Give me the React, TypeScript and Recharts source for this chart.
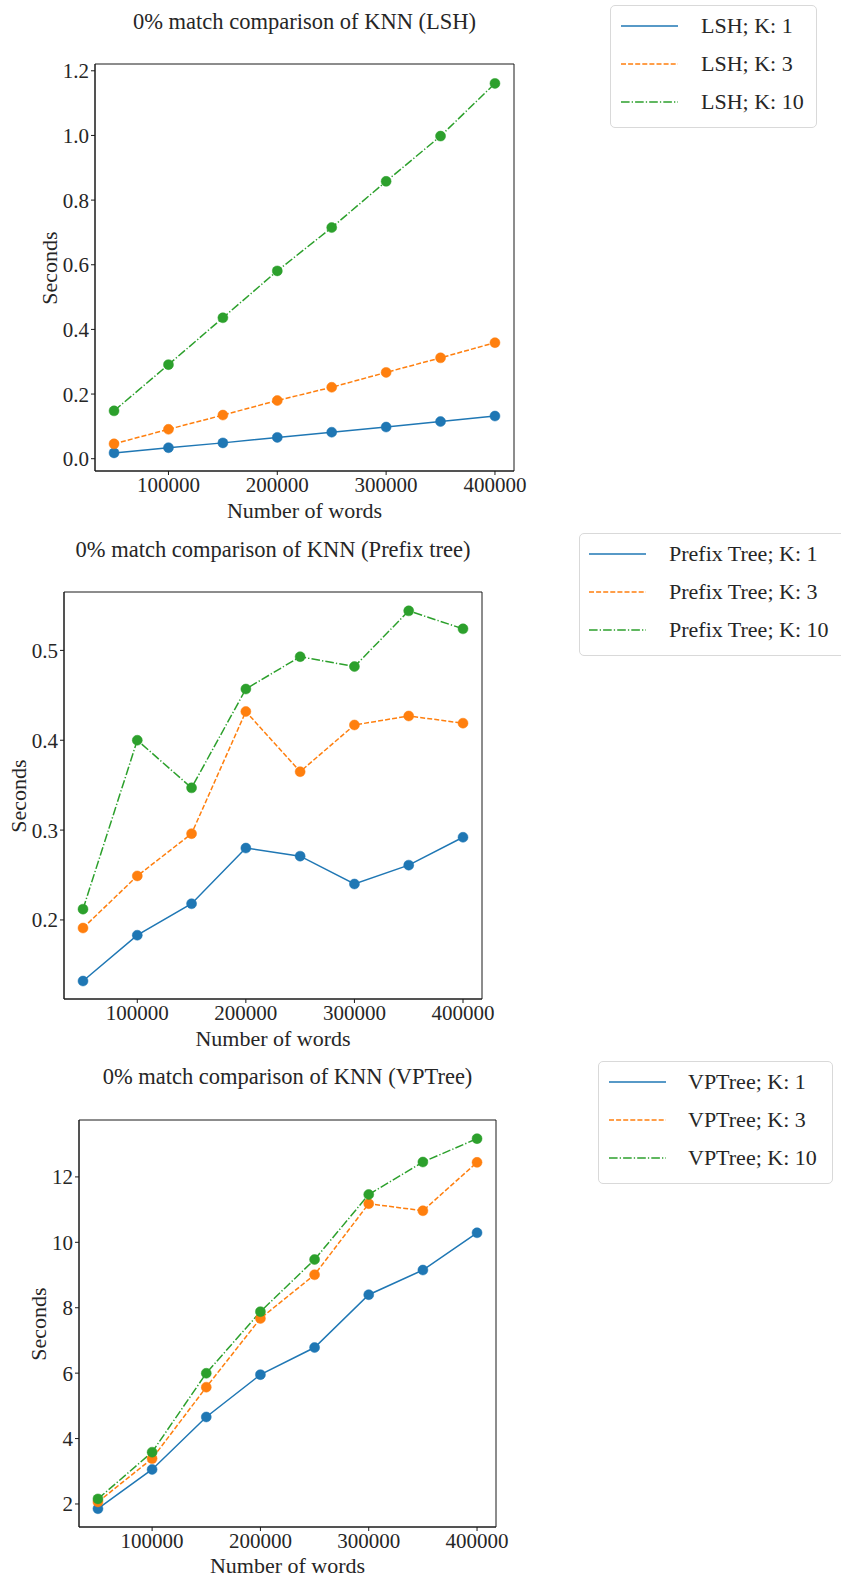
import { LineChart, Line, XAxis, YAxis, ReferenceArea } from "recharts";

const words = [50000, 100000, 150000, 200000, 250000, 300000, 350000, 400000];
const xTicks = [100000, 200000, 300000, 400000];
const xDomain = [32500, 417500];

const lshK1 = [0.018, 0.034, 0.049, 0.066, 0.082, 0.098, 0.115, 0.132];
const lshK3 = [0.046, 0.091, 0.135, 0.18, 0.221, 0.267, 0.312, 0.359];
const lshK10 = [0.148, 0.291, 0.436, 0.581, 0.715, 0.858, 0.998, 1.161];
const lshTicks = [0, 0.2, 0.4, 0.6, 0.8, 1.0, 1.2];

const prefixK1 = [0.132, 0.183, 0.218, 0.28, 0.271, 0.24, 0.261, 0.292];
const prefixK3 = [0.191, 0.249, 0.296, 0.432, 0.365, 0.417, 0.427, 0.419];
const prefixK10 = [0.212, 0.4, 0.347, 0.457, 0.493, 0.482, 0.544, 0.524];
const prefixTicks = [0.2, 0.3, 0.4, 0.5];

const vpK1 = [1.855, 3.056, 4.66, 5.954, 6.783, 8.398, 9.153, 10.292];
const vpK3 = [2.062, 3.387, 5.571, 7.673, 9.008, 11.182, 10.965, 12.445];
const vpK10 = [2.155, 3.584, 5.996, 7.88, 9.474, 11.462, 12.455, 13.17];
const vpTicks = [2, 4, 6, 8, 10, 12];

const kLabels = ["K: 1", "K: 3", "K: 10"];
const colors = ["#1f77b4", "#ff7f0e", "#2ca02c"];
const dashes = [undefined, "5 2.1", "8.6 2.1 1.3 2.1"];

const FONT = "'Liberation Serif', 'Times New Roman', serif";
const INK = "#262626";

type PanelProps = {
  top: number;
  box: { left: number; top: number; right: number; bottom: number };
  title: string;
  titleY: number;
  xLabelY: number;
  yLabelX: number;
  yDomain: number[];
  yTicks: number[];
  yFmt: (v: number) => string;
  series: number[][];
  prefix: string;
  legend: { left: number; top: number; width: number; lineX: number; textX: number };
};

function Legend({ prefix, legend }: { prefix: string; legend: PanelProps["legend"] }) {
  return (
    <div
      style={{
        position: "absolute",
        left: legend.left,
        top: legend.top,
        width: legend.width,
        height: 123,
        border: "1px solid #d9d9d9",
        borderRadius: 5,
        background: "#fff",
        boxSizing: "border-box",
      }}
    >
      {kLabels.map((k, i) => {
        const cy = 20 + i * 38;
        return (
          <div key={k}>
            <svg
              width={60}
              height={6}
              style={{ position: "absolute", left: legend.lineX, top: cy - 3 }}
            >
              <line
                x1={0}
                x2={57}
                y1={3}
                y2={3}
                stroke={colors[i]}
                strokeWidth={1.5}
                strokeDasharray={dashes[i]}
              />
            </svg>
            <div
              style={{
                position: "absolute",
                left: legend.textX,
                top: cy - 11,
                fontFamily: FONT,
                fontSize: 22,
                lineHeight: "22px",
                color: INK,
                whiteSpace: "nowrap",
              }}
            >
              {prefix}; {k}
            </div>
          </div>
        );
      })}
    </div>
  );
}

function Panel(p: PanelProps) {
  const { box } = p;
  const width = box.right + 20;
  const height = box.bottom - p.top + 40;
  const data = words.map((w, i) => ({
    words: w,
    k1: p.series[0][i],
    k3: p.series[1][i],
    k10: p.series[2][i],
  }));
  const cx = (box.left + box.right) / 2;
  const cy = (box.top + box.bottom) / 2;
  const textStyle = {
    position: "absolute" as const,
    fontFamily: FONT,
    fontSize: 22,
    lineHeight: "22px",
    color: INK,
    whiteSpace: "nowrap" as const,
  };
  return (
    <>
      <div style={{ position: "absolute", left: 0, top: p.top }}>
        <LineChart
          width={width}
          height={height}
          data={data}
          margin={{ top: box.top - p.top, right: 20, left: 0, bottom: 0 }}
        >
          <XAxis
            dataKey="words"
            type="number"
            domain={xDomain}
            ticks={xTicks}
            allowDataOverflow
            height={40}
            tickSize={4}
            tickMargin={2}
            stroke="#1a1a1a"
            tick={{ fill: INK, fontSize: 21, fontFamily: FONT }}
          />
          <YAxis
            type="number"
            domain={p.yDomain}
            ticks={p.yTicks}
            allowDataOverflow
            width={box.left}
            tickSize={4}
            tickMargin={2}
            stroke="#1a1a1a"
            tickFormatter={p.yFmt}
            tick={{ fill: INK, fontSize: 21, fontFamily: FONT }}
          />
          <ReferenceArea
            x1={xDomain[0]}
            x2={xDomain[1]}
            y1={p.yDomain[0]}
            y2={p.yDomain[1]}
            fill="none"
            stroke="#1a1a1a"
            strokeWidth={1}
            ifOverflow="visible"
          />
          {["k1", "k3", "k10"].map((key, i) => (
            <Line
              key={key}
              dataKey={key}
              type="linear"
              stroke={colors[i]}
              strokeWidth={1.5}
              strokeDasharray={dashes[i]}
              dot={{ r: 5, fill: colors[i], stroke: colors[i], strokeWidth: 0.5, strokeDasharray: "" }}
              isAnimationActive={false}
            />
          ))}
        </LineChart>
      </div>
      <div style={{ ...textStyle, fontSize: 22.5, left: cx, top: p.titleY - 11, transform: "translateX(-50%)" }}>
        {p.title}
      </div>
      <div style={{ ...textStyle, left: cx, top: p.xLabelY - 11, transform: "translateX(-50%)" }}>
        Number of words
      </div>
      <div
        style={{
          ...textStyle,
          left: p.yLabelX,
          top: cy,
          transform: "translate(-50%, -50%) rotate(-90deg)",
        }}
      >
        Seconds
      </div>
      <Legend prefix={p.prefix} legend={p.legend} />
    </>
  );
}

export default function App() {
  return (
    <div
      style={{
        position: "absolute",
        left: 0,
        top: 0,
        width: 841,
        height: 1581,
        overflow: "hidden",
        background: "#fff",
      }}
    >
      <Panel
        top={0}
        box={{ left: 95, top: 64, right: 514, bottom: 471 }}
        title="0% match comparison of KNN (LSH)"
        titleY={22}
        xLabelY={511}
        yLabelX={50}
        yDomain={[-0.038, 1.221]}
        yTicks={lshTicks}
        yFmt={(v) => v.toFixed(1)}
        series={[lshK1, lshK3, lshK10]}
        prefix="LSH"
        legend={{ left: 610, top: 5, width: 207, lineX: 10, textX: 90 }}
      />
      <Panel
        top={520}
        box={{ left: 64, top: 592, right: 482, bottom: 999 }}
        title="0% match comparison of KNN (Prefix tree)"
        titleY={550}
        xLabelY={1039}
        yLabelX={19}
        yDomain={[0.112, 0.565]}
        yTicks={prefixTicks}
        yFmt={(v) => v.toFixed(1)}
        series={[prefixK1, prefixK3, prefixK10]}
        prefix="Prefix Tree"
        legend={{ left: 579, top: 533, width: 300, lineX: 9, textX: 89 }}
      />
      <Panel
        top={1050}
        box={{ left: 79, top: 1120, right: 496, bottom: 1527 }}
        title="0% match comparison of KNN (VPTree)"
        titleY={1077}
        xLabelY={1566}
        yLabelX={39}
        yDomain={[1.296, 13.74]}
        yTicks={vpTicks}
        yFmt={(v) => String(v)}
        series={[vpK1, vpK3, vpK10]}
        prefix="VPTree"
        legend={{ left: 598, top: 1061, width: 235, lineX: 10, textX: 89 }}
      />
    </div>
  );
}
